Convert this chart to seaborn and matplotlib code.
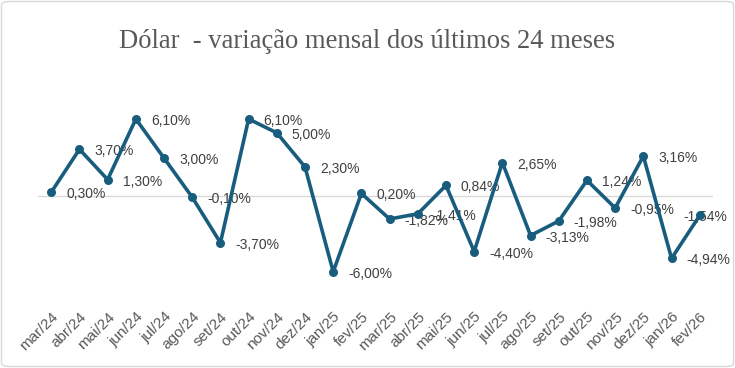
import matplotlib
matplotlib.use("Agg")
import matplotlib.pyplot as plt
import seaborn as sns
import pandas as pd
from matplotlib.patches import FancyBboxPatch

months = ["mar/24", "abr/24", "mai/24", "jun/24", "jul/24", "ago/24", "set/24", "out/24",
          "nov/24", "dez/24", "jan/25", "fev/25", "mar/25", "abr/25", "mai/25", "jun/25",
          "jul/25", "ago/25", "set/25", "out/25", "nov/25", "dez/25", "jan/26", "fev/26"]
values = [0.30, 3.70, 1.30, 6.10, 3.00, -0.10, -3.70, 6.10,
          5.00, 2.30, -6.00, 0.20, -1.82, -1.41, 0.84, -4.40,
          2.65, -3.13, -1.98, 1.24, -0.95, 3.16, -4.94, -1.54]
title = "Dólar  - variação mensal dos últimos 24 meses"

sns.set_style("white")
plt.rcParams["font.family"] = ["Liberation Sans", "DejaVu Sans"]

df = pd.DataFrame({"idx": range(len(months)), "mes": months, "valor": values})

fig = plt.figure(figsize=(7.35, 3.68), dpi=100)
ax = fig.add_axes([38 / 735, 1 - 297 / 368, 675 / 735, 202 / 368])

line_color = "#195D7E"
ax.axhline(0, color="#D9D9D9", lw=1, zorder=1)
sns.lineplot(data=df, x="idx", y="valor", ax=ax, color=line_color, lw=2.6,
             marker="o", markersize=6.5, markeredgewidth=0, zorder=3)

n = len(values)
for i, v in enumerate(values):
    lab = f"{v:.2f}".replace(".", ",") + "%"
    if i == n - 1:
        ax.annotate(lab, (i, v), xytext=(28, -2), textcoords="offset pixels",
                    ha="right", va="center", fontsize=10, color="#404040", zorder=2)
    else:
        ax.annotate(lab, (i, v), xytext=(15, -2), textcoords="offset pixels",
                    ha="left", va="center", fontsize=10, color="#404040", zorder=2)

ax.set_xlim(-0.47, 23.47)
ax.set_ylim(-8, 8)
ax.set_xticks(range(n))
ax.set_xticklabels(months, rotation=45, ha="right", rotation_mode="anchor",
                   fontsize=11, color="#595959")
ax.tick_params(axis="x", length=0, pad=9)
ax.set_yticks([])
ax.set_xlabel("")
ax.set_ylabel("")
for s in ax.spines.values():
    s.set_visible(False)

fig.text(0.5, 1 - 42 / 368, title, ha="center", va="center", fontsize=19.2,
         color="#595959", family=["Liberation Serif", "DejaVu Serif"])

border = FancyBboxPatch((1.5 / 735, 1.5 / 368), 1 - 3 / 735, 1 - 3 / 368,
                        boxstyle="round,pad=0,rounding_size=0.01",
                        transform=fig.transFigure, fill=False,
                        edgecolor="#D9D9D9", lw=1)
fig.patches.append(border)

fig.savefig("out.png", dpi=100)
